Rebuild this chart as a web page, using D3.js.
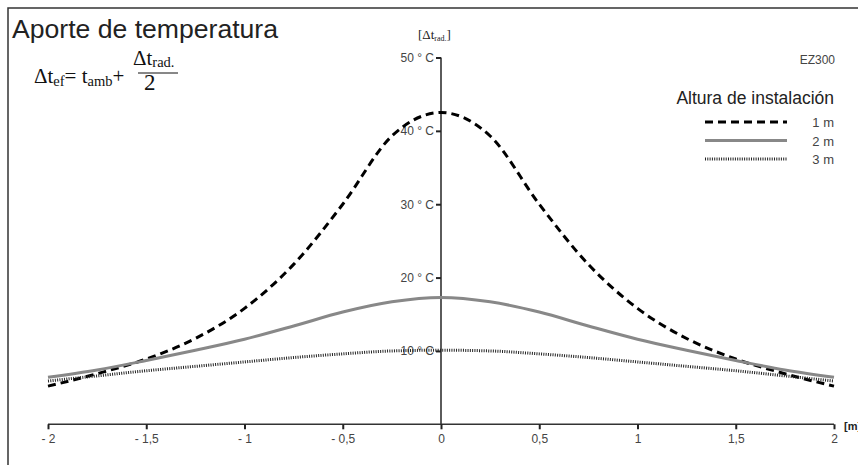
<!DOCTYPE html>
<html>
<head>
<meta charset="utf-8">
<script src="https://d3js.org/d3.v7.min.js"></script>
<style>
  body { margin: 0; background: #fff; }
  svg { display: block; font-family: "Liberation Sans", Arial, sans-serif; }
  .serif { font-family: "Liberation Serif", "DejaVu Serif", serif; }
</style>
</head>
<body>
<svg width="858" height="465"></svg>
<script>
// distance from the heater axis [m]
const distances = [-2, -1.75, -1.5, -1.25, -1, -0.75, -0.5, -0.25, 0, 0.25, 0.5, 0.75, 1, 1.25, 1.5, 1.75, 2];
// Δt rad. [°C] for each mounting height
const h1m = [5.2, 6.9, 8.9, 11.7, 15.8, 21.8, 30.0, 39.3, 42.5, 39.3, 30.0, 21.8, 15.8, 11.7, 8.9, 6.9, 5.2];
const h2m = [6.4, 7.4, 8.7, 10.1, 11.6, 13.4, 15.3, 16.7, 17.3, 16.7, 15.3, 13.4, 11.6, 10.1, 8.7, 7.4, 6.4];
const h3m = [5.9, 6.6, 7.3, 7.9, 8.5, 9.1, 9.6, 10.0, 10.1, 10.0, 9.6, 9.1, 8.5, 7.9, 7.3, 6.6, 5.9];
const seriesNames = ["1 m", "2 m", "3 m"];

const xTicks = [-2, -1.5, -1, -0.5, 0, 0.5, 1, 1.5, 2];
const xTickLabels = ["- 2", "- 1,5", "- 1", "- 0,5", "0", "0,5", "1", "1,5", "2"];
const yTicks = [10, 20, 30, 40, 50];
const yTickLabels = ["10 ° C", "20 ° C", "30 ° C", "40 ° C", "50 ° C"];

const svg = d3.select("svg");

const x = d3.scaleLinear().domain([-2, 2]).range([48, 834]);
const y = d3.scaleLinear().domain([0, 50]).range([424.3, 57.5]);

// frame (top + left)
svg.append("path")
  .attr("d", "M8,470 L8,8 L870,8")
  .attr("fill", "none").attr("stroke", "#333").attr("stroke-width", 1.5);

// title
svg.append("text").attr("x", 12).attr("y", 38)
  .attr("font-size", 25.5).attr("fill", "#222")
  .attr("textLength", 266).attr("lengthAdjust", "spacingAndGlyphs")
  .text("Aporte de temperatura");

// formula
const f = svg.append("g").attr("class", "serif").attr("fill", "#111");
const f1 = f.append("text").attr("x", 34).attr("y", 83).attr("font-size", 21);
f1.append("tspan").text("Δt");
f1.append("tspan").attr("font-size", 14.5).attr("dy", 3).text("ef");
f1.append("tspan").attr("dy", -3).text("= t");
f1.append("tspan").attr("font-size", 14.5).attr("dy", 3).text("amb");
f1.append("tspan").attr("dy", -3).text("+");
const f2 = f.append("text").attr("x", 133).attr("y", 65).attr("font-size", 21);
f2.append("tspan").text("Δt");
f2.append("tspan").attr("font-size", 14.5).attr("dy", 2).text("rad.");
f.append("line").attr("x1", 138).attr("x2", 178).attr("y1", 73).attr("y2", 73)
  .attr("stroke", "#111").attr("stroke-width", 1);
f.append("text").attr("x", 144).attr("y", 90).attr("font-size", 23).text("2");

// y unit label
const yl = svg.append("text").attr("class", "serif").attr("x", 418).attr("y", 39)
  .attr("font-size", 13).attr("fill", "#222");
yl.append("tspan").text("[Δt");
yl.append("tspan").attr("font-size", 8).attr("dy", 2).text("rad.");
yl.append("tspan").attr("dy", -2).text("]");

// EZ300
svg.append("text").attr("x", 835).attr("y", 64).attr("text-anchor", "end")
  .attr("font-size", 12).attr("fill", "#444").text("EZ300");

// axes
const xAxis = svg.append("g").attr("transform", `translate(0,${y(0)})`)
  .call(d3.axisBottom(x).tickValues(xTicks).tickSize(5).tickPadding(5)
    .tickFormat((d, i) => xTickLabels[i]));
const yAxis = svg.append("g").attr("transform", `translate(${x(0)},0)`)
  .call(d3.axisLeft(y).tickValues(yTicks).tickSize(5).tickPadding(2)
    .tickFormat((d, i) => yTickLabels[i]));
[xAxis, yAxis].forEach(a => {
  a.select(".domain").attr("stroke", "#333").attr("stroke-width", 1.6);
  a.selectAll(".tick line").attr("stroke", "#222").attr("stroke-width", 2);
  a.selectAll(".tick text").attr("fill", "#444").attr("font-size", 12)
    .attr("font-family", "'Liberation Sans', Arial, sans-serif");
});
yAxis.select(".domain").attr("d", `M0,${y(50)}V${y(0)}`);
xAxis.select(".domain").attr("d", `M${x(-2)},0H${x(2)}`);

svg.append("text").attr("x", 844).attr("y", 430)
  .attr("font-size", 11).attr("font-weight", "bold").attr("fill", "#222").text("[m]");

// curves
const styles = [
  { data: h1m, stroke: "#000", dash: "8,5", width: 3 },
  { data: h2m, stroke: "#888", dash: null, width: 3 },
  { data: h3m, stroke: "#222", dash: "1,1.3", width: 3 }
];
const line = d3.line().x(d => x(d[0])).y(d => y(d[1])).curve(d3.curveMonotoneX);
styles.forEach(s => {
  svg.append("path")
    .datum(distances.map((d, i) => [d, s.data[i]]))
    .attr("d", line)
    .attr("fill", "none")
    .attr("stroke", s.stroke)
    .attr("stroke-width", s.width)
    .attr("stroke-dasharray", s.dash);
});

// legend
svg.append("text").attr("x", 834).attr("y", 104).attr("text-anchor", "end")
  .attr("font-size", 17.5).attr("fill", "#222").text("Altura de instalación");
styles.forEach((s, i) => {
  const ly = 122 + i * 18.5;
  svg.append("line").attr("x1", 705).attr("x2", 787).attr("y1", ly).attr("y2", ly)
    .attr("stroke", s.stroke).attr("stroke-width", s.width).attr("stroke-dasharray", s.dash);
  svg.append("text").attr("x", 834).attr("y", ly + 5).attr("text-anchor", "end")
    .attr("font-size", 13).attr("fill", "#444").text(seriesNames[i]);
});
</script>
</body>
</html>
